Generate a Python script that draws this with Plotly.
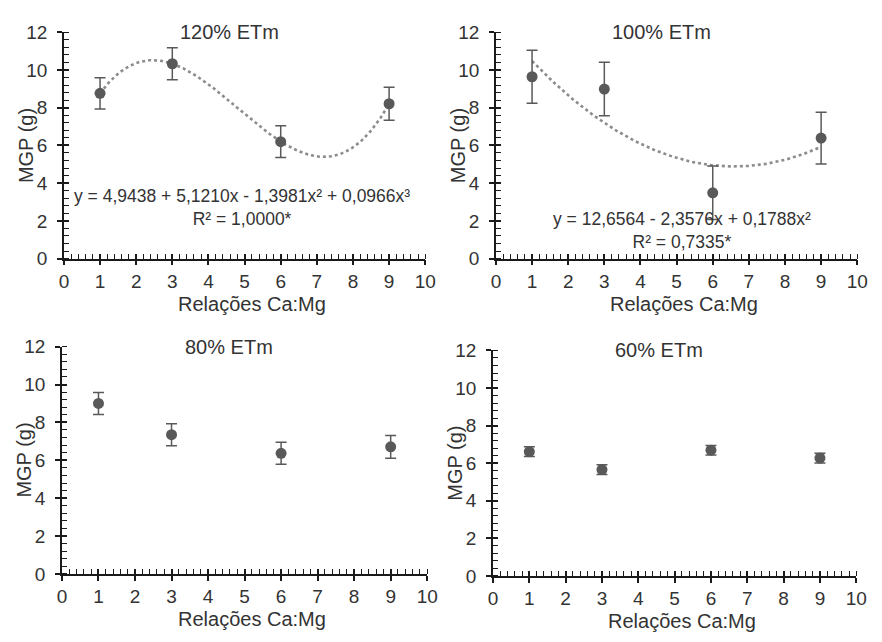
import numpy as np
import plotly.graph_objects as go

# Ca:Mg ratios evaluated in every irrigation level
ratios = [1, 3, 6, 9]

# Mean grain mass per plant (g) and standard errors, by irrigation level
mgp_120 = [8.76, 10.33, 6.20, 8.21]
err_120 = [0.83, 0.85, 0.84, 0.87]

mgp_100 = [9.64, 8.99, 3.49, 6.39]
err_100 = [1.41, 1.42, 1.42, 1.37]

mgp_80 = [9.00, 7.35, 6.37, 6.71]
err_80 = [0.58, 0.58, 0.58, 0.60]

mgp_60 = [6.61, 5.66, 6.69, 6.27]
err_60 = [0.26, 0.26, 0.25, 0.26]

# Fitted regression coefficients (constant first)
coef_120 = [4.9438, 5.1210, -1.3981, 0.0966]
coef_100 = [12.6564, -2.3576, 0.1788]

eq_120 = "y = 4,9438 + 5,1210x - 1,3981x² + 0,0966x³<br>R² = 1,0000*"
eq_100 = "y = 12,6564 - 2,3576x + 0,1788x²<br>R² = 0,7335*"

titles = ["120% ETm", "100% ETm", "80% ETm", "60% ETm"]
x_ticks = list(range(0, 11))
y_ticks = list(range(0, 13, 2))

MARK = "#595959"
FIT = "#8c8c8c"
AXIS = "#1a1a1a"
TEXT = "#333333"
FONT = "Liberation Sans, Arial, sans-serif"

W, H = 882, 642


def px_dom(a, b, total):
    return [a / total, b / total]


def py_dom(top, bottom):
    return [1 - bottom / H, 1 - top / H]


panels = [
    dict(y=mgp_120, e=err_120, coef=coef_120, eq=eq_120, eq_xy=(4.92, 2.72),
         xd=px_dom(60, 428, W), yd=py_dom(23, 257), title=titles[0]),
    dict(y=mgp_100, e=err_100, coef=coef_100, eq=eq_100, eq_xy=(5.16, 1.49),
         xd=px_dom(500, 868, W), yd=py_dom(23, 257), title=titles[1]),
    dict(y=mgp_80, e=err_80, coef=None, eq=None, eq_xy=None,
         xd=px_dom(58, 430, W), yd=py_dom(348, 583), title=titles[2]),
    dict(y=mgp_60, e=err_60, coef=None, eq=None, eq_xy=None,
         xd=px_dom(497, 867, W), yd=py_dom(352, 585), title=titles[3]),
]

fig = go.Figure()
layout = {}
annotations = []
n = len(panels)

for i, p in enumerate(panels, start=1):
    xa = "x" if i == 1 else f"x{i}"
    ya = "y" if i == 1 else f"y{i}"
    xk = "xaxis" if i == 1 else f"xaxis{i}"
    yk = "yaxis" if i == 1 else f"yaxis{i}"
    # twin axes that carry the inner half of the major ticks
    xo, yo = f"x{i + n}", f"y{i + n}"
    xok, yok = f"xaxis{i + n}", f"yaxis{i + n}"

    # fitted trend line
    if p["coef"] is not None:
        xs = np.linspace(1, 9, 200)
        ys = np.polynomial.polynomial.polyval(xs, p["coef"])
        fig.add_trace(go.Scatter(
            x=xs, y=ys, mode="lines", xaxis=xa, yaxis=ya,
            line=dict(color=FIT, width=2.6, dash="dot"), hoverinfo="skip"))

    # means with error bars
    fig.add_trace(go.Scatter(
        x=ratios, y=p["y"], mode="markers", xaxis=xa, yaxis=ya,
        marker=dict(color=MARK, size=11),
        error_y=dict(type="data", array=p["e"], visible=True,
                     color=MARK, thickness=1.5, width=5.5)))

    # empty trace that makes the twin axes render
    fig.add_trace(go.Scatter(x=[None], y=[None], mode="markers",
                             xaxis=xo, yaxis=yo, hoverinfo="skip"))

    common = dict(
        showline=True, linecolor=AXIS, linewidth=1.5, showgrid=False,
        zeroline=False, ticks="outside", ticklen=5, tickwidth=1.5,
        tickcolor=AXIS, tickfont=dict(family=FONT, size=19, color=TEXT),
    )
    layout[xk] = dict(
        common, domain=p["xd"], anchor=ya, range=[0, 10],
        tickvals=x_ticks, ticktext=[str(v) for v in x_ticks],
        minor=dict(dtick=0.2, ticks="inside", ticklen=5, tickwidth=1.2,
                   tickcolor=AXIS, showgrid=False),
        ticklabelstandoff=0,
    )
    layout[yk] = dict(
        common, domain=p["yd"], anchor=xa, range=[0, 12],
        tickvals=y_ticks, ticktext=[str(v) for v in y_ticks],
        minor=dict(dtick=0.4, ticks="inside", ticklen=5, tickwidth=1.2,
                   tickcolor=AXIS, showgrid=False),
        ticklabelstandoff=6,
    )
    twin = dict(showline=False, showgrid=False, zeroline=False,
                ticks="inside", ticklen=5, tickwidth=1.5, tickcolor=AXIS,
                showticklabels=False)
    layout[xok] = dict(twin, domain=p["xd"], anchor=yo, range=[0, 10],
                       tickvals=x_ticks, overlaying=xa, side="bottom")
    layout[yok] = dict(twin, domain=p["yd"], anchor=xo, range=[0, 12],
                       tickvals=y_ticks, overlaying=ya, side="left")

    # panel title
    annotations.append(dict(
        text=p["title"], xref=f"{xa} domain", yref=f"{ya} domain",
        x=0.457, y=1.0, xanchor="center", yanchor="middle", showarrow=False,
        font=dict(family=FONT, size=20, color=TEXT)))
    # axis titles
    annotations.append(dict(
        text="MGP (g)", xref=f"{xa} domain", yref=f"{ya} domain",
        x=-0.103, y=0.5, xanchor="center", yanchor="middle", textangle=-90,
        showarrow=False, font=dict(family=FONT, size=20, color=TEXT)))
    annotations.append(dict(
        text="Relações Ca:Mg", xref=f"{xa} domain", yref=f"{ya} domain",
        x=0.52, y=-0.2, xanchor="center", yanchor="middle",
        showarrow=False, font=dict(family=FONT, size=20, color=TEXT)))
    # regression equation
    if p["eq"] is not None:
        annotations.append(dict(
            text=p["eq"], xref=xa, yref=ya, x=p["eq_xy"][0], y=p["eq_xy"][1],
            xanchor="center", yanchor="middle", showarrow=False, align="center",
            font=dict(family=FONT, size=17.5, color=TEXT)))

fig.update_layout(
    width=W, height=H, margin=dict(l=0, r=0, t=0, b=0),
    paper_bgcolor="white", plot_bgcolor="white", showlegend=False,
    annotations=annotations, **layout)

fig.write_html("out.html")
